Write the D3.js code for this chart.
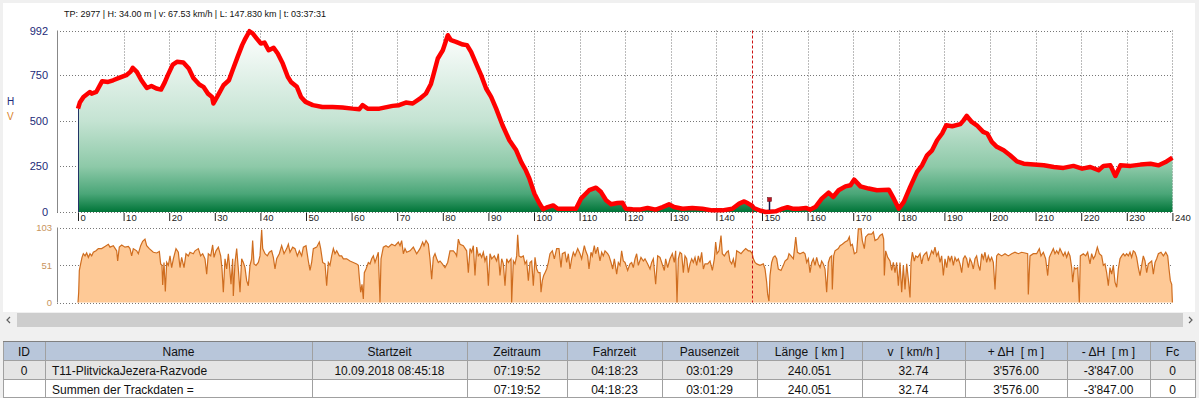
<!DOCTYPE html>
<html>
<head>
<meta charset="utf-8">
<script src="https://cdn.jsdelivr.net/npm/d3@7"></script>
<style>
body { margin: 0; background: #f0f0f0; overflow: hidden; }
text { font-family: "Liberation Sans", Arial, sans-serif; }
</style>
</head>
<body>
<script>
//Width and height
var width = 1199;
var height = 398;

//header line of the cursor
var infoText = "TP: 2977 | H: 34.00 m | v: 67.53 km/h | L: 147.830 km | t: 03:37:31";
var cursorKm = 147.83;
var pinKm = 151.6;

//tick labels
var xTicks = [0, 10, 20, 30, 40, 50, 60, 70, 80, 90, 100, 110, 120, 130, 140, 150, 160, 170, 180, 190, 200, 210, 220, 230, 240];
var hTicks = [0, 250, 500, 750, 992];
var vTicks = [0, 51, 103];

//elevation profile [km, m]
var elevation = [
    [0,565],[0.4,598],[1.2,629],[2.6,656],[3.0,647],[4.0,656],[5.3,715],[6.6,711],[7.7,720],[9.0,733],
    [10.6,748],[11.5,766],[12.0,788],[12.9,766],[13.9,720],[15.1,678],[16.1,689],[17.2,675],[18.2,669],[19.0,707],
    [19.7,748],[20.8,806],[21.7,821],[23.1,817],[24.3,784],[25.3,733],[26.6,697],[27.5,684],[28.5,647],[29.4,629],
    [29.7,593],[30.9,647],[31.9,693],[33.1,720],[33.9,775],[35.0,848],[36.0,912],[36.7,948],[37.6,988],[38.3,976],
    [39.2,948],[40.1,921],[40.9,926],[41.8,884],[42.9,897],[43.8,866],[44.9,811],[46.0,739],[46.7,711],[48.0,684],
    [48.9,629],[49.9,602],[51.5,584],[53.6,574],[55.8,574],[58.0,571],[60.2,565],[61.7,562],[62.4,584],[63.5,565],
    [66.1,565],[69.0,580],[70.4,584],[71.9,598],[73.4,593],[75.2,624],[76.3,647],[77.4,700],[78.0,755],[78.9,839],
    [80.0,884],[81.1,966],[81.8,939],[82.9,930],[84.4,915],[85.3,912],[86.2,875],[87.3,811],[88.4,748],[89.5,675],
    [90.6,629],[91.7,565],[93.1,474],[94.6,392],[96.1,337],[97.2,273],[98.2,228],[99.0,182],[100.1,100],[101.2,46],
    [102.0,15],[103.0,27],[104.2,36],[105.2,18],[107.0,18],[109.2,18],[110.3,73],[112.1,119],[113.6,133],[114.7,109],
    [115.8,64],[116.9,42],[118.3,49],[119.4,51],[120.1,18],[121.6,15],[123.1,13],[124.9,22],[126.7,13],[128.2,27],
    [129.6,42],[130.7,27],[132.6,18],[134.7,22],[136.9,18],[139.1,9],[141.3,9],[143.5,18],[145.0,46],[146.1,58],
    [147.0,46],[147.83,34],[148.2,22],[149.7,7],[150.8,0],[153.0,4],[154.5,18],[155.6,26],[156.7,18],[158.1,18],
    [159.6,22],[160.6,13],[161.7,27],[163.1,73],[164.6,106],[165.6,82],[166.8,119],[168.3,140],[169.4,146],[170.2,177],
    [171.6,140],[173.4,128],[175.2,119],[177.8,122],[178.9,73],[180.0,18],[181.1,55],[182.5,137],[184.0,219],[185.1,255],
    [186.2,310],[187.3,337],[188.4,392],[189.5,429],[190.4,474],[191.7,469],[193.5,480],[194.2,501],[194.9,525],[196.0,492],
    [197.1,474],[198.5,438],[199.4,429],[200.4,383],[201.5,356],[203.0,337],[204.4,310],[205.9,277],[207.4,264],[209.6,259],
    [211.8,255],[214.0,246],[216.1,241],[218.3,252],[220.2,237],[222.0,246],[223.8,228],[224.9,252],[226.4,255],[227.5,197],
    [228.6,255],[230.8,252],[233.0,259],[235.2,264],[237.0,255],[238.5,273],[240.0,297]
];

//speed [km, km/h]
var speed = [
    [0,0],[0.15,14],[0.29,44],[0.58,53],[0.88,62],[1.17,67],[1.54,64],[1.9,68],[2.27,62],[2.63,67],[3.0,64],[3.36,69],
    [3.95,71],[4.46,74],[5.19,74],[5.92,77],[6.65,80],[7.02,76],[7.75,78],[8.48,71],[8.7,57],[9.06,76],[9.58,79],
    [10.31,76],[11.04,77],[11.4,74],[11.77,64],[12.13,74],[12.87,71],[13.23,67],[13.74,78],[14.18,84],[14.69,87],
    [15.06,78],[15.64,74],[16.52,69],[17.25,68],[17.84,70],[18.13,53],[18.42,51],[18.57,24],[18.86,55],[19.15,15],
    [19.45,55],[19.81,51],[20.18,64],[20.54,48],[20.91,60],[21.49,74],[22.0,69],[22.37,48],[22.73,62],[23.25,48],
    [23.68,67],[24.2,64],[24.56,69],[25.29,67],[25.66,71],[26.39,74],[26.9,64],[27.34,67],[27.85,60],[28.22,39],
    [28.58,67],[29.1,64],[29.53,79],[29.83,62],[30.26,71],[30.78,76],[31.29,64],[31.58,46],[31.87,14],[32.24,60],
    [32.6,46],[32.97,67],[33.19,53],[33.55,25],[33.92,60],[34.06,9],[34.43,55],[34.8,74],[35.16,46],[35.53,14],
    [35.89,60],[36.26,55],[36.62,48],[36.99,30],[37.35,23],[37.72,51],[38.08,60],[38.3,85],[38.6,53],[39.04,51],
    [39.55,55],[39.91,64],[40.28,100],[40.5,74],[41.01,67],[41.52,64],[41.96,69],[42.47,71],[42.84,62],[43.2,46],
    [43.57,60],[44.15,67],[44.66,78],[45.18,67],[45.76,74],[46.13,80],[46.49,69],[47.08,76],[47.59,74],[48.1,64],
    [48.54,71],[49.05,64],[49.42,76],[50.0,78],[50.51,57],[50.88,44],[51.24,55],[51.61,74],[52.34,76],[52.92,83],
    [53.22,74],[53.66,55],[54.17,53],[54.53,23],[54.9,55],[55.26,51],[55.63,64],[56.0,74],[56.36,67],[56.73,71],
    [57.31,64],[57.82,64],[58.19,60],[58.92,60],[59.65,57],[60.38,55],[61.11,53],[61.48,51],[61.7,34],[61.99,14],
    [62.28,25],[62.57,5],[62.79,41],[63.16,46],[63.67,55],[64.04,53],[64.4,60],[64.77,64],[65.13,55],[65.5,62],
    [65.86,69],[66.23,0],[66.45,60],[66.96,76],[67.54,78],[68.06,76],[68.79,80],[69.52,78],[70.25,83],[70.62,78],
    [70.98,85],[71.35,67],[71.71,74],[72.08,69],[72.81,71],[73.54,76],[74.27,67],[75.0,74],[75.58,83],[75.88,78],
    [76.32,85],[76.83,80],[77.19,60],[77.56,32],[77.92,62],[78.29,67],[78.66,60],[79.02,55],[79.39,57],[79.9,53],
    [80.48,48],[81.07,55],[81.58,71],[82.31,71],[82.82,67],[83.04,64],[83.41,87],[83.77,80],[84.5,78],[85.23,71],
    [85.6,41],[85.97,74],[86.33,69],[86.7,78],[87.06,37],[87.43,76],[87.79,64],[88.16,67],[88.52,62],[88.89,69],
    [89.25,57],[89.62,64],[89.99,23],[90.35,67],[90.72,60],[91.3,64],[91.81,57],[92.18,67],[92.54,37],[92.91,60],
    [93.28,53],[93.64,23],[94.01,60],[94.37,55],[94.96,60],[95.1,0],[95.47,57],[95.83,53],[96.2,64],[96.42,93],
    [96.71,64],[97.15,62],[97.66,64],[98.03,53],[98.39,57],[98.76,30],[99.12,55],[99.49,57],[99.85,23],[100.22,62],
    [100.59,46],[100.95,41],[101.32,41],[101.54,14],[101.83,30],[102.12,37],[102.42,41],[102.78,46],[103.15,55],[103.51,67],
    [104.02,71],[104.46,60],[104.97,74],[105.48,74],[105.92,48],[106.21,67],[106.8,69],[107.16,55],[107.53,67],[107.9,46],
    [108.26,60],[108.63,69],[108.99,64],[109.58,74],[110.09,67],[110.45,60],[111.04,78],[111.33,71],[111.77,64],[112.06,46],
    [112.5,69],[112.79,64],[113.23,78],[113.52,67],[113.96,76],[114.47,57],[114.84,69],[115.2,64],[115.57,71],[116.15,67],
    [116.45,64],[116.89,55],[117.25,46],[117.62,60],[118.13,39],[118.49,55],[118.86,51],[119.22,71],[119.59,57],[119.96,55],
    [120.54,44],[121.05,53],[121.42,55],[121.78,48],[122.15,60],[122.51,67],[122.88,51],[123.46,62],[123.98,57],[124.34,60],
    [124.93,53],[125.44,46],[125.8,55],[126.17,60],[126.68,25],[127.12,64],[127.63,62],[128.0,55],[128.58,44],[128.87,60],
    [129.31,48],[129.83,60],[130.34,67],[130.77,55],[131.07,71],[131.36,0],[131.65,60],[132.02,69],[132.38,67],[132.75,41],
    [133.11,64],[133.48,60],[133.85,41],[134.21,53],[134.58,60],[134.94,55],[135.31,62],[135.67,51],[136.04,64],[136.4,55],
    [136.77,69],[137.14,46],[137.5,53],[138.09,53],[138.6,57],[139.11,44],[139.55,60],[139.84,83],[140.13,67],[140.57,71],
    [141.01,92],[141.3,67],[141.74,64],[142.25,69],[142.62,71],[142.98,57],[143.35,53],[143.72,60],[144.08,48],[144.45,71],
    [144.96,69],[145.4,67],[145.91,71],[146.42,74],[147.0,71],[147.37,71],[147.83,67.5],[148.1,60],[148.47,55],[148.83,53],
    [149.56,51],[150.29,53],[150.66,46],[151.02,28],[151.24,11],[151.53,2],[151.75,37],[152.12,55],[152.48,62],[152.85,64],
    [153.22,60],[153.58,46],[154.17,44],[154.68,51],[155.05,57],[155.63,60],[155.92,67],[156.36,64],[156.88,60],[157.4,90],
    [157.76,69],[158.33,67],[159.07,69],[159.43,67],[159.8,55],[160.16,60],[160.53,41],[160.89,55],[161.26,60],[161.62,51],
    [161.99,62],[162.35,53],[162.72,48],[163.08,57],[163.45,53],[163.82,46],[164.18,14],[164.55,55],[164.91,62],[165.28,64],
    [165.42,18],[165.72,64],[166.01,71],[166.74,74],[167.11,78],[167.62,80],[168.2,83],[168.79,85],[169.15,90],[169.44,78],
    [169.81,80],[170.25,67],[170.76,69],[171.13,101],[171.71,101],[172.0,85],[172.44,74],[172.73,90],[173.32,94],[174.05,94],
    [174.42,97],[174.78,85],[175.37,87],[175.88,92],[176.39,94],[176.68,87],[176.83,37],[177.12,71],[177.56,62],[178.07,57],
    [178.44,44],[178.8,55],[179.17,41],[179.53,55],[179.9,23],[180.26,55],[180.63,14],[181.0,51],[181.36,18],[181.73,53],
    [182.09,32],[182.46,7],[182.68,55],[182.97,69],[183.41,57],[183.7,64],[184.14,62],[184.65,67],[185.02,53],[185.38,64],
    [185.75,67],[186.11,69],[186.48,57],[186.84,64],[187.21,71],[187.57,67],[187.94,76],[188.3,64],[188.67,69],[189.04,55],
    [189.4,64],[189.77,37],[190.13,60],[190.5,48],[190.86,64],[191.23,57],[191.59,64],[191.96,51],[192.32,62],[192.69,57],
    [193.05,60],[193.42,53],[193.79,41],[194.15,60],[194.52,64],[194.88,60],[195.25,48],[195.61,60],[195.98,55],[196.34,46],
    [196.71,60],[197.07,64],[197.44,51],[197.81,44],[198.17,67],[198.54,60],[198.9,69],[199.27,55],[199.63,64],[200.0,57],
    [200.36,62],[200.73,55],[201.1,18],[201.46,64],[201.83,67],[202.56,64],[203.29,67],[204.02,64],[204.75,67],[205.48,69],
    [206.21,67],[206.94,69],[207.67,68],[208.26,67],[208.4,11],[208.77,64],[209.5,67],[210.23,67],[210.82,74],[211.18,64],
    [211.7,69],[212.21,60],[212.65,37],[213.01,62],[213.52,69],[213.89,74],[214.25,67],[214.62,71],[214.99,67],[215.35,74],
    [215.72,69],[216.08,64],[216.45,69],[216.81,62],[217.18,69],[217.54,64],[217.91,48],[218.13,28],[218.49,48],[218.79,46],
    [219.23,48],[219.59,0],[219.81,64],[220.47,67],[220.98,64],[221.42,69],[221.93,53],[222.29,67],[222.66,60],[223.03,64],
    [223.54,76],[223.97,67],[224.49,64],[224.85,51],[225.22,53],[225.58,41],[225.95,23],[226.31,48],[226.68,39],[227.05,51],
    [227.41,28],[227.78,21],[228.14,46],[228.51,60],[228.87,64],[229.24,67],[229.6,64],[229.97,67],[230.33,64],[230.7,69],
    [231.06,62],[231.43,71],[231.8,69],[232.16,62],[232.53,48],[232.9,37],[233.26,51],[233.62,64],[233.99,57],[234.36,41],
    [234.72,53],[235.09,55],[235.46,57],[235.82,39],[236.19,55],[236.55,60],[236.92,67],[237.5,69],[238.02,64],[238.54,69],
    [238.97,64],[239.26,46],[239.55,30],[239.85,25],[240.0,0]
];

//table below the chart
var tableCols = [3, 45, 312, 467, 567, 662, 757, 862, 965, 1067, 1150, 1195];
var tableHead = ["ID", "Name", "Startzeit", "Zeitraum", "Fahrzeit", "Pausenzeit", "Länge  [ km ]", "v  [ km/h ]", "+ ΔH  [ m ]", "- ΔH  [ m ]", "Fc"];
var tableRow1 = ["0", "T11-PlitvickaJezera-Razvode", "10.09.2018 08:45:18", "07:19:52", "04:18:23", "03:01:29", "240.051", "32.74", "3'576.00", "-3'847.00", "0"];
var tableRow2 = ["", "Summen der Trackdaten =", "", "07:19:52", "04:18:23", "03:01:29", "240.051", "32.74", "3'576.00", "-3'847.00", "0"];

var svg = d3.select("body").append("svg")
    .attr("width", width)
    .attr("height", height);

var x = d3.scaleLinear().domain([0, 240]).range([78, 1172.4]);
var yH = d3.scaleLinear().domain([0, 992]).range([212, 30.5]);
var yV = d3.scaleLinear().domain([0, 103]).range([302.5, 227.5]);
var left = 57;

function drawFrame(){
    svg.append("rect").attr("x", 3).attr("y", 3).attr("width", 1192).attr("height", 309).attr("fill", "#fff");

    svg.append("text")
        .attr("x", 64).attr("y", 17)
        .attr("font-size", 9)
        .attr("textLength", 262)
        .attr("fill", "#111")
        .text(infoText);

    svg.append("text").attr("x", 7).attr("y", 105).attr("font-size", 10).attr("fill", "#1c2a78").text("H");
    svg.append("text").attr("x", 7).attr("y", 120).attr("font-size", 10).attr("fill", "#d9822b").text("V");
}

function drawElevation(){
    var defs = svg.append("defs");
    var grad = defs.append("linearGradient")
        .attr("id", "hgrad")
        .attr("gradientUnits", "userSpaceOnUse")
        .attr("x1", 0).attr("y1", yH(992))
        .attr("x2", 0).attr("y2", yH(0));
    grad.append("stop").attr("offset", "0%").attr("stop-color", "#ffffff");
    grad.append("stop").attr("offset", "50%").attr("stop-color", "#c4e3d2");
    grad.append("stop").attr("offset", "75%").attr("stop-color", "#8dc9a8");
    grad.append("stop").attr("offset", "90%").attr("stop-color", "#4aa678");
    grad.append("stop").attr("offset", "100%").attr("stop-color", "#007538");

    //grid
    var g = svg.append("g");
    g.selectAll(".hgrid").data(hTicks).enter().append("line")
        .attr("x1", left).attr("x2", x(240))
        .attr("y1", function(d) { return Math.round(yH(d)) + 0.5; })
        .attr("y2", function(d) { return Math.round(yH(d)) + 0.5; })
        .attr("stroke", "#777").attr("stroke-dasharray", "1,2");
    g.selectAll(".vgrid").data(xTicks.slice(1)).enter().append("line")
        .attr("x1", function(d) { return Math.round(x(d)) + 0.5; })
        .attr("x2", function(d) { return Math.round(x(d)) + 0.5; })
        .attr("y1", yH(992)).attr("y2", yH(0))
        .attr("stroke", "#777").attr("stroke-dasharray", "1,2");
    g.append("line").attr("x1", left + 0.5).attr("x2", left + 0.5)
        .attr("y1", yH(992)).attr("y2", yH(0)).attr("stroke", "#888");

    var area = d3.area()
        .x(function(d) { return x(d[0]); })
        .y0(yH(0))
        .y1(function(d) { return yH(d[1]); });
    var line = d3.line()
        .x(function(d) { return x(d[0]); })
        .y(function(d) { return yH(d[1]); });

    svg.append("path").datum(elevation).attr("d", area).attr("fill", "url(#hgrad)");
    svg.append("line")
        .attr("x1", x(0) + 0.5).attr("x2", x(0) + 0.5)
        .attr("y1", yH(elevation[0][1])).attr("y2", yH(0))
        .attr("stroke", "#223366");
    svg.append("path").datum(elevation).attr("d", line)
        .attr("fill", "none").attr("stroke", "#ff0000")
        .attr("stroke-width", 4.5).attr("stroke-linejoin", "round");

    //axes
    var ax = svg.append("g")
        .attr("transform", "translate(0," + (yH(0) + 1) + ")")
        .call(d3.axisBottom(x).tickValues(xTicks).tickSize(8).tickFormat(d3.format("d")));
    ax.select(".domain").remove();
    ax.selectAll("line").attr("stroke", "#222");
    ax.selectAll("text")
        .attr("x", 2).attr("y", 0).attr("dy", "0.85em")
        .style("text-anchor", "start")
        .attr("fill", "#222")
        .attr("font-size", 9.5)
        .attr("font-family", "Liberation Sans, Arial, sans-serif");

    var ay = svg.append("g")
        .attr("transform", "translate(51,0)")
        .call(d3.axisLeft(yH).tickValues(hTicks).tickSize(0).tickFormat(d3.format("d")));
    ay.select(".domain").remove();
    ay.selectAll("text").attr("fill", "#1c2a78").attr("font-size", 11)
        .attr("font-family", "Liberation Sans, Arial, sans-serif");
}

function drawSpeed(){
    var g = svg.append("g");
    g.selectAll(".vg").data(vTicks).enter().append("line")
        .attr("x1", left).attr("x2", x(240))
        .attr("y1", function(d) { return Math.round(yV(d)) + 0.5; })
        .attr("y2", function(d) { return Math.round(yV(d)) + 0.5; })
        .attr("stroke", "#777").attr("stroke-dasharray", "1,2");
    g.append("line").attr("x1", left + 0.5).attr("x2", left + 0.5)
        .attr("y1", yV(103)).attr("y2", yV(0)).attr("stroke", "#888");

    var area = d3.area()
        .x(function(d) { return x(d[0]); })
        .y0(yV(0))
        .y1(function(d) { return yV(d[1]); });
    var line = d3.line()
        .x(function(d) { return x(d[0]); })
        .y(function(d) { return yV(d[1]); });

    svg.append("path").datum(speed).attr("d", area).attr("fill", "#fec996");
    svg.append("path").datum(speed).attr("d", line)
        .attr("fill", "none").attr("stroke", "#cf6d1f").attr("stroke-width", 1.2);

    var ay = svg.append("g")
        .attr("transform", "translate(55,0)")
        .call(d3.axisLeft(yV).tickValues(vTicks).tickSize(0).tickFormat(d3.format("d")));
    ay.select(".domain").remove();
    ay.selectAll("text").attr("fill", "#c8945c").attr("font-size", 9.5)
        .attr("font-family", "Liberation Sans, Arial, sans-serif");
}

function drawCursor(){
    svg.append("line")
        .attr("x1", Math.round(x(cursorKm)) + 0.5).attr("x2", Math.round(x(cursorKm)) + 0.5)
        .attr("y1", yH(992)).attr("y2", yV(0))
        .attr("stroke", "#cc1111").attr("stroke-dasharray", "3,2");

    var px = Math.round(x(pinKm)) + 0.5;
    svg.append("line").attr("x1", px).attr("x2", px).attr("y1", 200).attr("y2", 210)
        .attr("stroke", "#101848").attr("stroke-width", 1.5);
    svg.append("rect").attr("x", px - 2).attr("y", 197.5).attr("width", 4).attr("height", 4)
        .attr("fill", "#c01020").attr("stroke", "#601010").attr("stroke-width", 0.5);
}

function drawScrollbar(){
    svg.append("rect").attr("x", 0).attr("y", 313).attr("width", width).attr("height", 14).attr("fill", "#f0f0f0");
    svg.append("rect").attr("x", 17).attr("y", 313).attr("width", 1166).attr("height", 14).attr("fill", "#cdcdcd");
    svg.append("path").attr("d", "M10,317 L7,320 L10,323").attr("fill", "none").attr("stroke", "#606060").attr("stroke-width", 1.2);
    svg.append("path").attr("d", "M1189,317 L1192,320 L1189,323").attr("fill", "none").attr("stroke", "#606060").attr("stroke-width", 1.2);
}

function drawTable(){
    var rows = [tableHead, tableRow1, tableRow2];
    var rowY = [342, 361, 380, 398];
    var fills = ["#b8c6da", "#e4e4e4", "#ffffff"];
    var t = svg.append("g");

    rows.forEach(function(row, r) {
        t.append("rect")
            .attr("x", tableCols[0]).attr("y", rowY[r])
            .attr("width", tableCols[tableCols.length - 1] - tableCols[0])
            .attr("height", rowY[r + 1] - rowY[r])
            .attr("fill", fills[r]);
        t.append("line")
            .attr("x1", tableCols[0]).attr("x2", tableCols[tableCols.length - 1])
            .attr("y1", rowY[r + 1] - 0.5).attr("y2", rowY[r + 1] - 0.5)
            .attr("stroke", "#a0a0a0");

        t.selectAll(".c" + r).data(row).enter().append("text")
            .attr("x", function(d, i) {
                if (r > 0 && i == 1) return tableCols[1] + 7;
                return (tableCols[i] + tableCols[i + 1]) / 2;
            })
            .attr("y", rowY[r] + 14)
            .attr("text-anchor", function(d, i) { return (r > 0 && i == 1) ? "start" : "middle"; })
            .attr("font-size", 12)
            .attr("fill", "#111")
            .style("font-family", "'Liberation Sans Narrow', 'Arial Narrow', sans-serif")
            .style("white-space", "pre")
            .text(function(d) { return d; });
    });

    t.selectAll(".col").data(tableCols).enter().append("line")
        .attr("x1", function(d) { return d + 0.5; }).attr("x2", function(d) { return d + 0.5; })
        .attr("y1", rowY[0]).attr("y2", rowY[3])
        .attr("stroke", "#a0a0a0");
    t.append("line").attr("x1", tableCols[0]).attr("x2", tableCols[tableCols.length - 1])
        .attr("y1", rowY[0] - 0.5).attr("y2", rowY[0] - 0.5).attr("stroke", "#808080");
}

drawFrame();
drawElevation();
drawSpeed();
drawCursor();
drawScrollbar();
drawTable();
</script>
</body>
</html>
